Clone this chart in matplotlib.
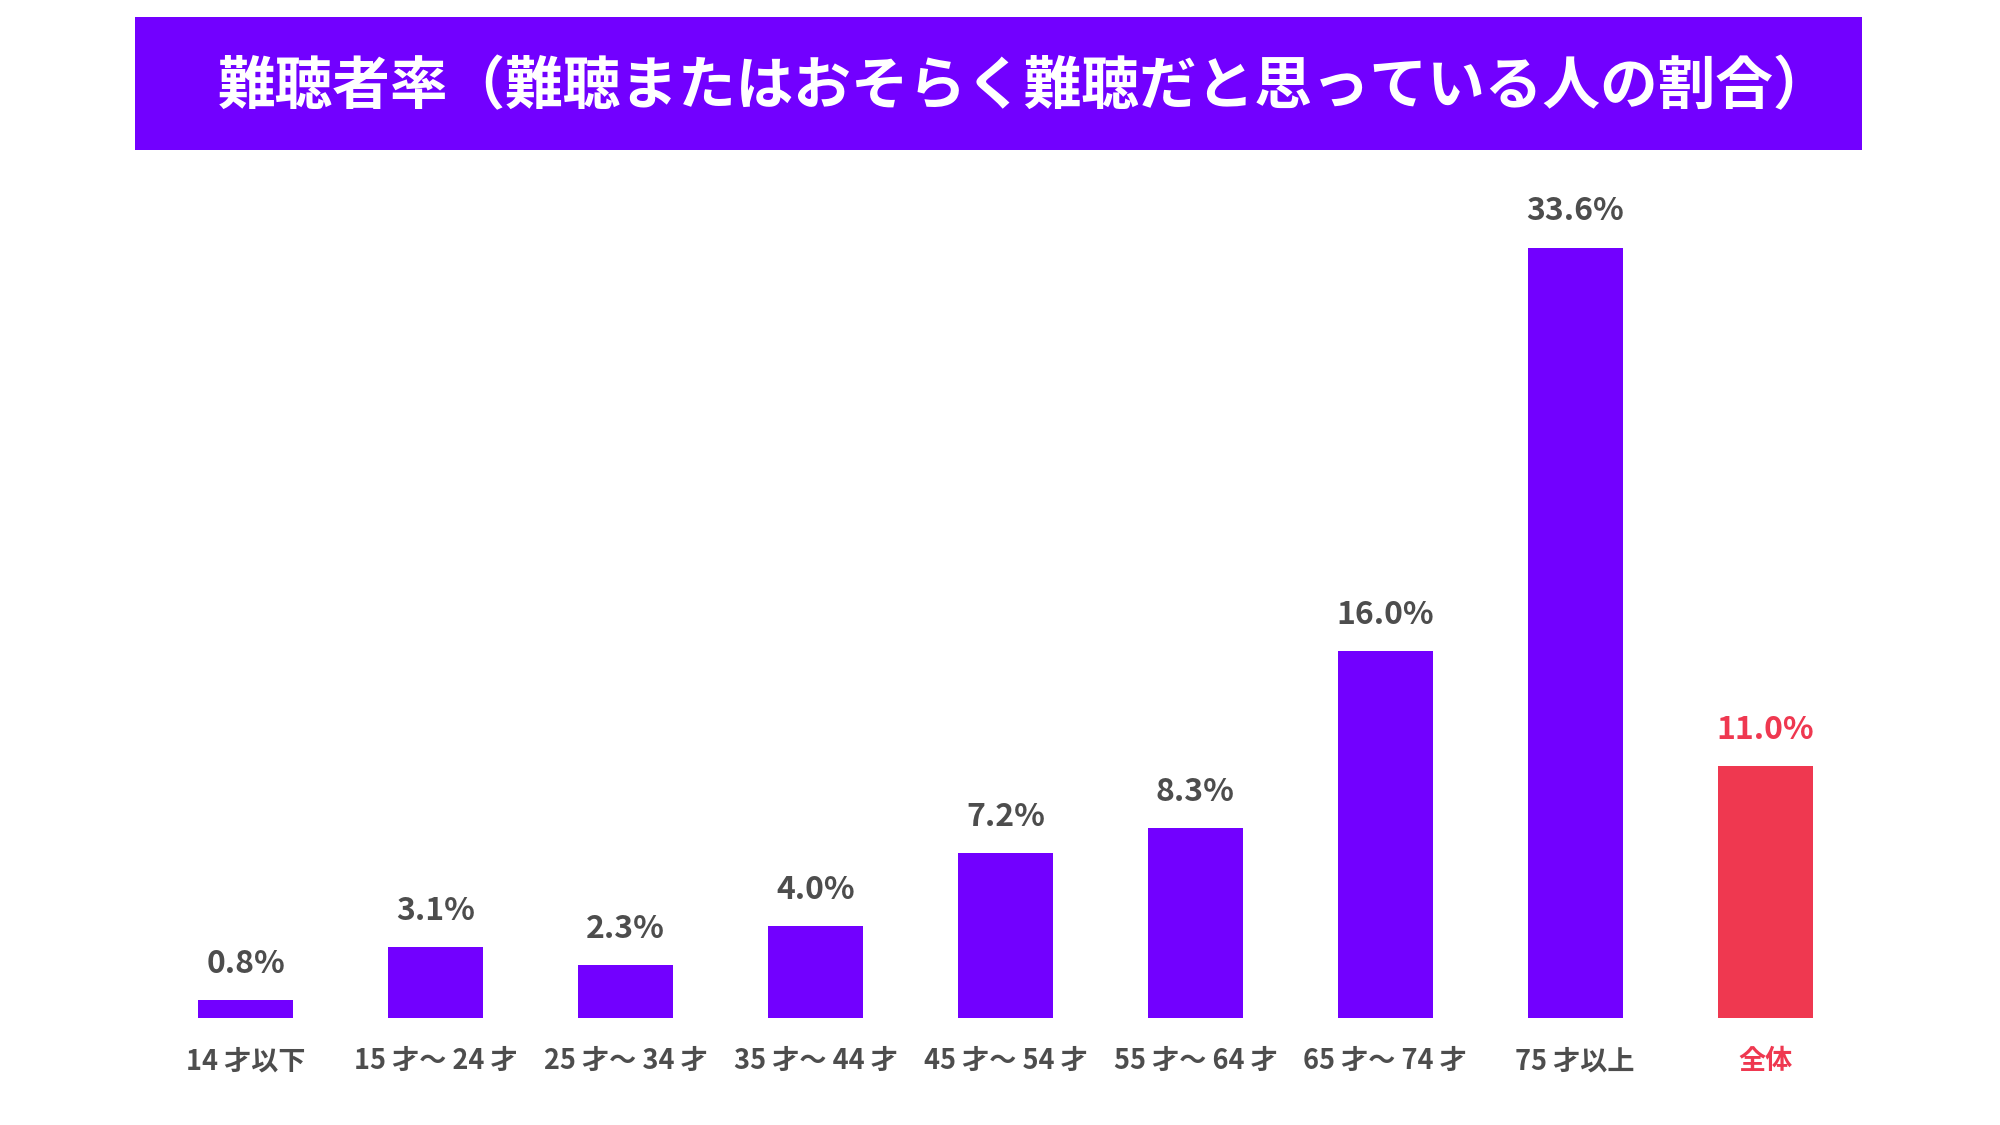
import matplotlib
matplotlib.use('Agg')
import matplotlib.pyplot as plt

plt.rcParams['font.family'] = ['Noto Sans CJK JP', 'DejaVu Sans']
plt.rcParams['font.weight'] = 'bold'

# データ
title = '難聴者率（難聴またはおそらく難聴だと思っている人の割合）'
categories = ['14 才以下', '15 才～ 24 才', '25 才～ 34 才', '35 才～ 44 才',
              '45 才～ 54 才', '55 才～ 64 才', '65 才～ 74 才', '75 才以上', '全体']
values = [0.8, 3.1, 2.3, 4.0, 7.2, 8.3, 16.0, 33.6, 11.0]

PURPLE = '#7200FF'
RED = '#EF3850'
GREY = '#4D4D4D'

colors = [PURPLE] * (len(values) - 1) + [RED]
text_colors = [GREY] * (len(values) - 1) + [RED]

fig = plt.figure(figsize=(20, 11.25), dpi=100)

# タイトル帯
tax = fig.add_axes([0.0675, 0.8667, 0.8635, 0.1182])
tax.set_facecolor(PURPLE)
tax.set_xticks([])
tax.set_yticks([])
for s in tax.spines.values():
    s.set_visible(False)
tax.text(0.515, 0.47, title, color='white', fontsize=41.5, fontweight='bold',
         ha='center', va='center', transform=tax.transAxes)

# 棒グラフ
ax = fig.add_axes([0.0755, 0.0951, 0.8545, 0.7338])
x = range(len(values))
ax.bar(x, values, width=0.5, color=colors)
ax.set_xlim(-0.5, len(values) - 0.5)
ax.set_ylim(0, 36)

for i, v in enumerate(values):
    ax.annotate(f'{v:.1f}%', (i, v), xytext=(0, 14.5), textcoords='offset points',
                ha='center', va='bottom', fontsize=23, fontweight='bold',
                color=text_colors[i])

ax.set_xticks(list(x))
ax.set_xticklabels(categories, fontsize=19.5, fontweight='bold')
for lbl, c in zip(ax.get_xticklabels(), text_colors):
    lbl.set_color(c)
ax.tick_params(axis='x', length=0, pad=21)
ax.set_yticks([])
for s in ax.spines.values():
    s.set_visible(False)

fig.savefig('out.png', dpi=100, facecolor='white')
plt.close()
